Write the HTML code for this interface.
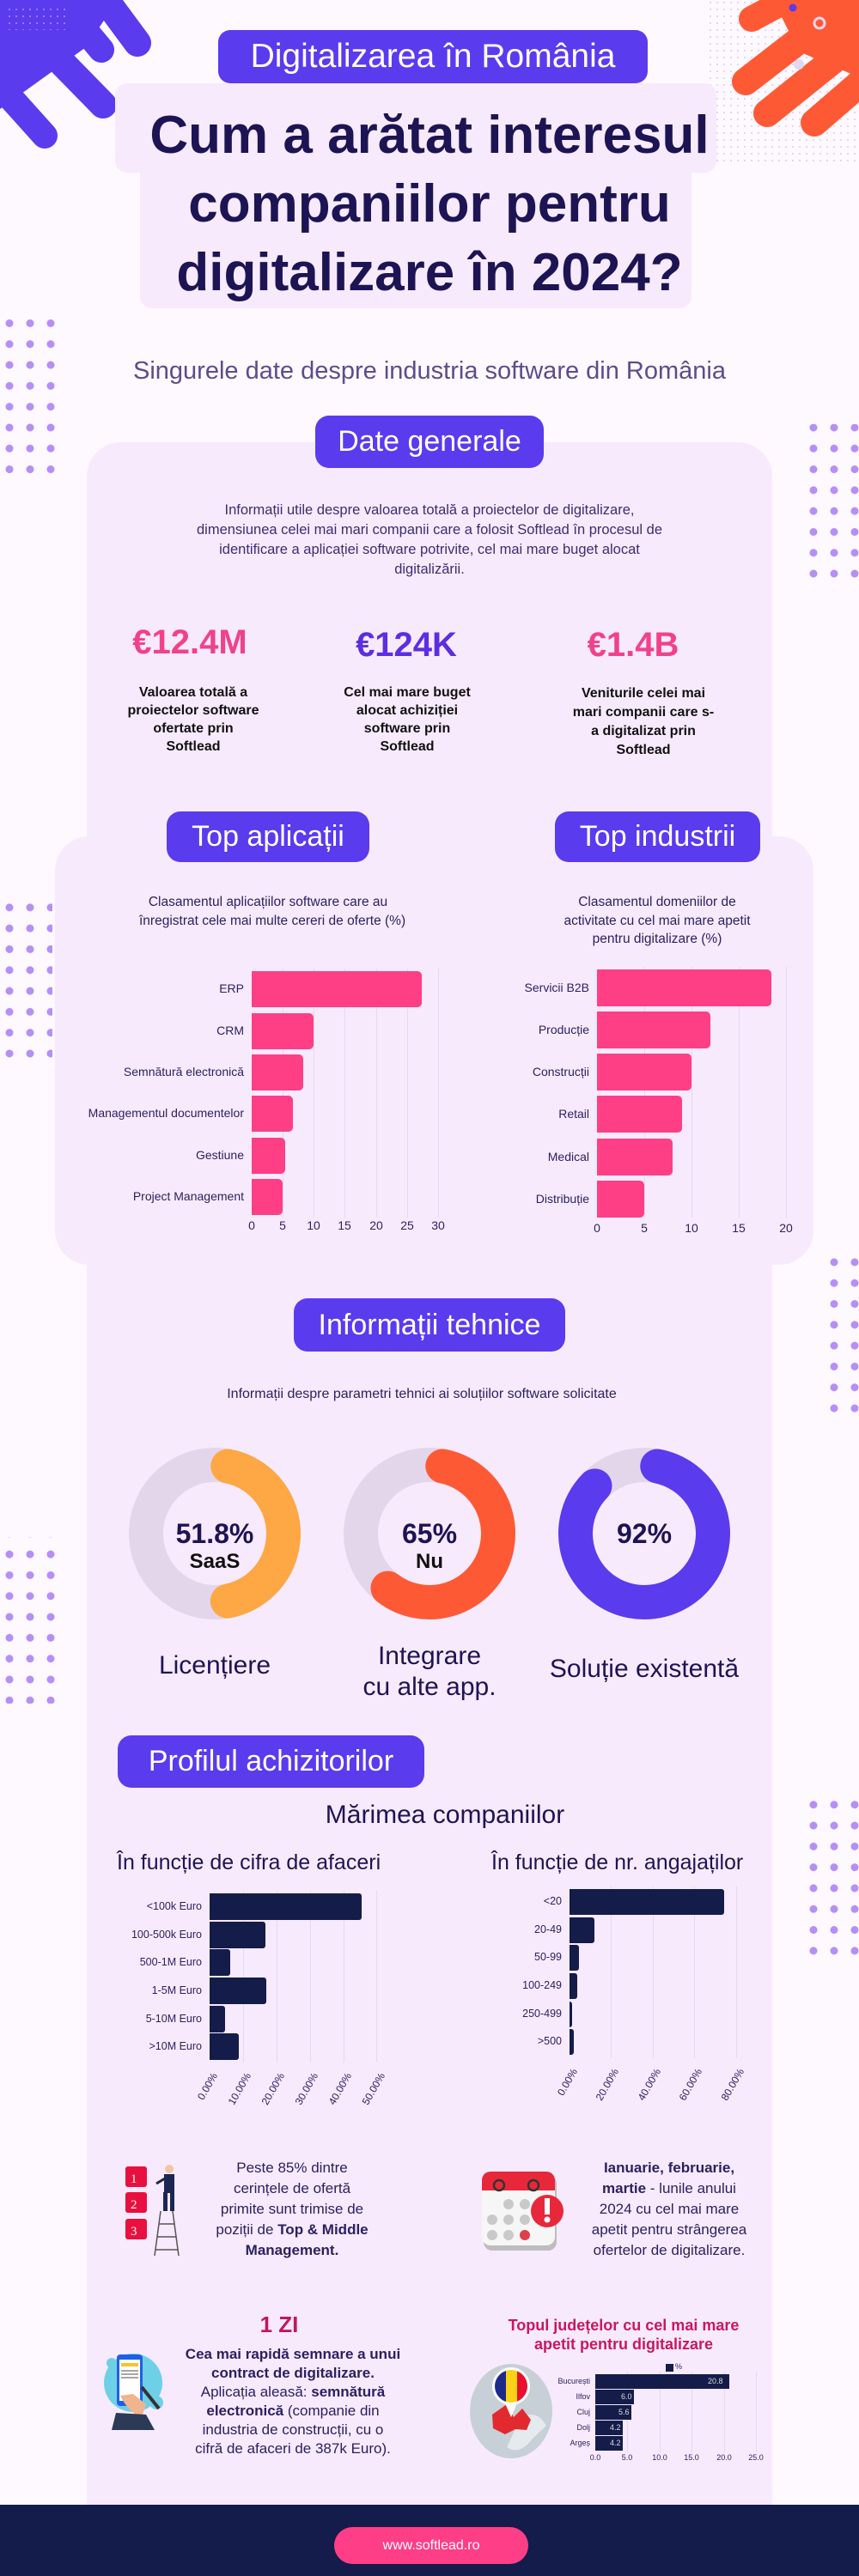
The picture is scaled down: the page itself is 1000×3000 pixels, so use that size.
<!DOCTYPE html>
<html><head><meta charset="utf-8">
<style>
*{margin:0;padding:0;box-sizing:border-box}
body{width:1000px;height:3000px;background:#fdf9fe;position:relative;overflow:hidden;font-family:"Liberation Sans",sans-serif;color:#231a5b}
.a{position:absolute}
.pill{position:absolute;background:#5a3bee;color:#fff;border-radius:16px;text-align:center;white-space:nowrap}
.c{text-align:center;white-space:nowrap}
.bar{position:absolute;background:#fe3f85;border-radius:0 5px 5px 0}
.nb{position:absolute;background:#141c4a;border-radius:0 3px 3px 0}
.lbl{position:absolute;text-align:right;font-size:14px;color:#2a2160;white-space:nowrap}
.tk{position:absolute;font-size:14px;color:#2a2160;width:30px;text-align:center;margin-left:-15px}
.gl{position:absolute;width:1px;background:#e6d8ee}
.rt{position:absolute;font-size:12px;color:#2a2160;transform-origin:100% 50%;transform:rotate(-60deg);text-align:right;width:60px;white-space:nowrap}
</style></head><body>

<!-- decorations -->
<svg class="a" style="left:0;top:0" width="1000" height="3000">
<defs>
<pattern id="dp" x="0" y="0" width="24" height="24.3" patternUnits="userSpaceOnUse"><circle cx="11" cy="12" r="4.5" fill="#a87cf4"/></pattern>
<pattern id="dw" x="0" y="0" width="8" height="8" patternUnits="userSpaceOnUse"><circle cx="3" cy="3" r="1" fill="#e0c8ee"/></pattern>
<linearGradient id="fade" x1="0" y1="0" x2="0" y2="1"><stop offset="0" stop-color="#fff" stop-opacity="1"/><stop offset="1" stop-color="#fff" stop-opacity="0.35"/></linearGradient>
<mask id="fm"><rect x="0" y="0" width="1000" height="3000" fill="#fff"/></mask>
</defs>
<!-- top-left purple -->
<g fill="#5a3bee" stroke="#5a3bee" stroke-linecap="round">
<polygon points="0,0 137,0 100,55 0,127" stroke="none"/>
<line x1="112" y1="-15" x2="160" y2="50" stroke-width="32"/>
<line x1="70" y1="0" x2="118" y2="58" stroke-width="30"/>
<line x1="30" y1="30" x2="120" y2="122" stroke-width="32"/>
<line x1="0" y1="100" x2="52" y2="158" stroke-width="30"/>
</g>
<rect x="10" y="10" width="70" height="25" fill="url(#dw)" opacity="0.6"/>
<!-- top-right orange -->
<rect x="820" y="0" width="180" height="190" fill="url(#dw)"/>
<g fill="#fe5935" stroke="#fe5935" stroke-linecap="round">
<polygon points="900,0 1000,0 1000,90 930,60" stroke="none"/>
<line x1="935" y1="-10" x2="875" y2="22" stroke-width="30"/>
<line x1="965" y1="20" x2="868" y2="95" stroke-width="32"/>
<line x1="995" y1="50" x2="893" y2="132" stroke-width="32"/>
<line x1="1015" y1="85" x2="948" y2="143" stroke-width="32"/>
</g>
<circle cx="923" cy="9" r="4.5" fill="#5a3bee"/>
<circle cx="954" cy="27" r="6" fill="none" stroke="#e2d7ee" stroke-width="3"/>
<circle cx="930" cy="75" r="6" fill="#e2d7ee"/>
<!-- dot grids -->
<rect x="0" y="359" width="72" height="194" fill="url(#dp)" opacity="0.85"/>
<rect x="929" y="494" width="72" height="194" fill="url(#dp)" opacity="0.85"/>
<rect x="-11" y="1051" width="72" height="194" fill="url(#dp)" opacity="0.85"/>
<rect x="953" y="1461" width="48" height="194" fill="url(#dp)" opacity="0.85"/>
<rect x="0" y="1790" width="72" height="194" fill="url(#dp)" opacity="0.85"/>
<rect x="929" y="2088" width="72" height="194" fill="url(#dp)" opacity="0.85"/>
</svg>

<!-- title -->
<div class="a" style="left:134px;top:97px;width:700px;height:104px;background:#f6eafc;border-radius:14px"></div>
<div class="a" style="left:163px;top:180px;width:642px;height:179px;background:#f6eafc;border-radius:14px"></div>
<div class="pill" style="left:254px;top:35px;width:500px;height:62px;font-size:39px;line-height:62px;border-radius:14px">Digitalizarea în România</div>
<div class="a c" style="left:0;width:1000px;top:118px;font-size:62px;font-weight:bold;line-height:80px;color:#1d1454">Cum a arătat interesul<br>companiilor pentru<br>digitalizare în 2024?</div>
<div class="a c" style="left:0;width:1000px;top:416px;font-size:29px;color:#5a4e8a">Singurele date despre industria software din România</div>

<!-- main panel -->
<div class="a" style="left:101px;top:515px;width:798px;height:2402px;background:#f8eafd;border-radius:40px 40px 0 0"></div>
<div class="pill" style="left:367px;top:484px;width:266px;height:61px;font-size:34px;line-height:61px">Date generale</div>
<div class="a c" style="left:150px;width:700px;top:583px;font-size:16.5px;line-height:23px;color:#3a2e6e">Informații utile despre valoarea totală a proiectelor de digitalizare,<br>dimensiunea celei mai mari companii care a folosit Softlead în procesul de<br>identificare a aplicației software potrivite, cel mai mare buget alocat<br>digitalizării.</div>
<div class="a c" style="left:121px;width:200px;top:726px;font-size:40px;font-weight:bold;color:#f0428a">€12.4M</div>
<div class="a c" style="left:373px;width:200px;top:729px;font-size:40px;font-weight:bold;color:#5b2fe0">€124K</div>
<div class="a c" style="left:637px;width:200px;top:729px;font-size:40px;font-weight:bold;color:#f0428a">€1.4B</div>
<div class="a c" style="left:125px;width:200px;top:796px;font-size:16px;font-weight:bold;line-height:21px;color:#111">Valoarea totală a<br>proiectelor software<br>ofertate prin<br>Softlead</div>
<div class="a c" style="left:374px;width:200px;top:796px;font-size:16px;font-weight:bold;line-height:21px;color:#111">Cel mai mare buget<br>alocat achiziției<br>software prin<br>Softlead</div>
<div class="a c" style="left:649px;width:200px;top:797px;font-size:16px;font-weight:bold;line-height:22px;color:#111">Veniturile celei mai<br>mari companii care s-<br>a digitalizat prin<br>Softlead</div>

<!-- secondary panel -->
<div class="a" style="left:64px;top:974px;width:883px;height:499px;background:#f8eafd;border-radius:40px"></div>
<div class="pill" style="left:194px;top:945px;width:236px;height:59px;font-size:34px;line-height:59px">Top aplicații</div>
<div class="pill" style="left:646px;top:945px;width:239px;height:59px;font-size:34px;line-height:59px">Top industrii</div>
<div class="a c" style="left:162px;width:300px;top:1040px;font-size:15.5px;line-height:21.5px;color:#2a2160">Clasamentul aplicațiilor software care au<br>înregistrat cele mai multe cereri de oferte (%)</div>
<div class="a c" style="left:615px;width:300px;top:1040px;font-size:15.5px;line-height:21.5px;color:#2a2160">Clasamentul domeniilor de<br>activitate cu cel mai mare apetit<br>pentru digitalizare (%)</div>

<!-- left app chart -->
<div class="gl" style="left:329px;top:1128px;height:290px"></div>
<div class="gl" style="left:365px;top:1128px;height:290px"></div>
<div class="gl" style="left:401px;top:1128px;height:290px"></div>
<div class="gl" style="left:438px;top:1128px;height:290px"></div>
<div class="gl" style="left:474px;top:1128px;height:290px"></div>
<div class="gl" style="left:510px;top:1128px;height:290px"></div>
<div class="bar" style="left:293px;top:1131px;width:198px;height:42px"></div>
<div class="bar" style="left:293px;top:1180px;width:72px;height:42px"></div>
<div class="bar" style="left:293px;top:1228px;width:60px;height:42px"></div>
<div class="bar" style="left:293px;top:1276px;width:48px;height:42px"></div>
<div class="bar" style="left:293px;top:1325px;width:39px;height:42px"></div>
<div class="bar" style="left:293px;top:1373px;width:36px;height:42px"></div>
<div class="lbl" style="right:716px;top:1143px">ERP</div>
<div class="lbl" style="right:716px;top:1192px">CRM</div>
<div class="lbl" style="right:716px;top:1240px">Semnătură electronică</div>
<div class="lbl" style="right:716px;top:1288px">Managementul documentelor</div>
<div class="lbl" style="right:716px;top:1337px">Gestiune</div>
<div class="lbl" style="right:716px;top:1385px">Project Management</div>
<div class="tk" style="left:293px;top:1419px">0</div>
<div class="tk" style="left:329px;top:1419px">5</div>
<div class="tk" style="left:365px;top:1419px">10</div>
<div class="tk" style="left:401px;top:1419px">15</div>
<div class="tk" style="left:438px;top:1419px">20</div>
<div class="tk" style="left:474px;top:1419px">25</div>
<div class="tk" style="left:510px;top:1419px">30</div>

<!-- right industry chart -->
<div class="gl" style="left:750px;top:1126px;height:292px"></div>
<div class="gl" style="left:805px;top:1126px;height:292px"></div>
<div class="gl" style="left:860px;top:1126px;height:292px"></div>
<div class="gl" style="left:915px;top:1126px;height:292px"></div>
<div class="bar" style="left:695px;top:1129px;width:203px;height:43px"></div>
<div class="bar" style="left:695px;top:1178px;width:132px;height:43px"></div>
<div class="bar" style="left:695px;top:1227px;width:110px;height:43px"></div>
<div class="bar" style="left:695px;top:1276px;width:99px;height:43px"></div>
<div class="bar" style="left:695px;top:1326px;width:88px;height:43px"></div>
<div class="bar" style="left:695px;top:1375px;width:55px;height:43px"></div>
<div class="lbl" style="right:314px;top:1142px">Servicii B2B</div>
<div class="lbl" style="right:314px;top:1191px">Producție</div>
<div class="lbl" style="right:314px;top:1240px">Construcții</div>
<div class="lbl" style="right:314px;top:1289px">Retail</div>
<div class="lbl" style="right:314px;top:1339px">Medical</div>
<div class="lbl" style="right:314px;top:1388px">Distribuție</div>
<div class="tk" style="left:695px;top:1422px">0</div>
<div class="tk" style="left:750px;top:1422px">5</div>
<div class="tk" style="left:805px;top:1422px">10</div>
<div class="tk" style="left:860px;top:1422px">15</div>
<div class="tk" style="left:915px;top:1422px">20</div>

<!-- technical -->
<div class="pill" style="left:342px;top:1512px;width:316px;height:62px;font-size:34px;line-height:62px">Informații tehnice</div>
<div class="a c" style="left:0;width:982px;top:1615px;font-size:16px;color:#2a2160">Informații despre parametri tehnici ai soluțiilor software solicitate</div>
<svg class="a" style="left:0;top:1680px" width="1000" height="220">
<g fill="none" stroke-width="40">
<circle cx="250" cy="106" r="80" stroke="#e4d6ea"/>
<circle cx="500" cy="106" r="80" stroke="#e4d6ea"/>
<circle cx="750" cy="106" r="80" stroke="#e4d6ea"/>
<circle cx="250" cy="106" r="80" stroke="#fda845" stroke-linecap="round" stroke-dasharray="221 1000" transform="rotate(-79 250 106)"/>
<circle cx="500" cy="106" r="80" stroke="#fe5935" stroke-linecap="round" stroke-dasharray="288 1000" transform="rotate(-79 500 106)"/>
<circle cx="750" cy="106" r="80" stroke="#5a3bee" stroke-linecap="round" stroke-dasharray="423 1000" transform="rotate(-79 750 106)"/>
</g>
</svg>
<div class="a c" style="left:150px;width:200px;top:1768px;font-size:32px;font-weight:bold;color:#1d1454">51.8%</div>
<div class="a c" style="left:150px;width:200px;top:1805px;font-size:24px;font-weight:bold;color:#111">SaaS</div>
<div class="a c" style="left:400px;width:200px;top:1768px;font-size:32px;font-weight:bold;color:#1d1454">65%</div>
<div class="a c" style="left:400px;width:200px;top:1805px;font-size:24px;font-weight:bold;color:#111">Nu</div>
<div class="a c" style="left:650px;width:200px;top:1768px;font-size:32px;font-weight:bold;color:#1d1454">92%</div>
<div class="a c" style="left:150px;width:200px;top:1923px;font-size:30px;color:#1d1454">Licențiere</div>
<div class="a c" style="left:400px;width:200px;top:1911px;font-size:30px;line-height:36px;color:#1d1454">Integrare<br>cu alte app.</div>
<div class="a c" style="left:630px;width:240px;top:1927px;font-size:30px;color:#1d1454">Soluție existentă</div>

<!-- profil -->
<div class="pill" style="left:137px;top:2021px;width:357px;height:61px;font-size:34px;line-height:61px">Profilul achizitorilor</div>
<div class="a c" style="left:318px;width:400px;top:2097px;font-size:30px;color:#1d1454">Mărimea companiilor</div>
<div class="a" style="left:136px;top:2155px;font-size:25px;color:#1d1454;white-space:nowrap">În funcție de cifra de afaceri</div>
<div class="a" style="left:572px;top:2155px;font-size:25px;color:#1d1454;white-space:nowrap">În funcție de nr. angajaților</div>

<div class="gl" style="left:283px;top:2202px;height:200px"></div>
<div class="gl" style="left:322px;top:2202px;height:200px"></div>
<div class="gl" style="left:361px;top:2202px;height:200px"></div>
<div class="gl" style="left:400px;top:2202px;height:200px"></div>
<div class="gl" style="left:438px;top:2202px;height:200px"></div>
<div class="nb" style="left:244px;top:2205px;width:177px;height:31px"></div>
<div class="nb" style="left:244px;top:2238px;width:65px;height:31px"></div>
<div class="nb" style="left:244px;top:2270px;width:24px;height:31px"></div>
<div class="nb" style="left:244px;top:2303px;width:66px;height:31px"></div>
<div class="nb" style="left:244px;top:2336px;width:18px;height:31px"></div>
<div class="nb" style="left:244px;top:2368px;width:34px;height:31px"></div>
<div class="lbl" style="right:765px;top:2213px;font-size:12.5px">&lt;100k Euro</div>
<div class="lbl" style="right:765px;top:2246px;font-size:12.5px">100-500k Euro</div>
<div class="lbl" style="right:765px;top:2278px;font-size:12.5px">500-1M Euro</div>
<div class="lbl" style="right:765px;top:2311px;font-size:12.5px">1-5M Euro</div>
<div class="lbl" style="right:765px;top:2344px;font-size:12.5px">5-10M Euro</div>
<div class="lbl" style="right:765px;top:2376px;font-size:12.5px">&gt;10M Euro</div>
<div class="rt" style="left:190px;top:2408px">0.00%</div>
<div class="rt" style="left:229px;top:2408px">10.00%</div>
<div class="rt" style="left:268px;top:2408px">20.00%</div>
<div class="rt" style="left:307px;top:2408px">30.00%</div>
<div class="rt" style="left:346px;top:2408px">40.00%</div>
<div class="rt" style="left:385px;top:2408px">50.00%</div>

<div class="gl" style="left:711px;top:2197px;height:200px"></div>
<div class="gl" style="left:760px;top:2197px;height:200px"></div>
<div class="gl" style="left:808px;top:2197px;height:200px"></div>
<div class="gl" style="left:857px;top:2197px;height:200px"></div>
<div class="nb" style="left:663px;top:2200px;width:180px;height:30px"></div>
<div class="nb" style="left:663px;top:2233px;width:29px;height:30px"></div>
<div class="nb" style="left:663px;top:2265px;width:11px;height:30px"></div>
<div class="nb" style="left:663px;top:2298px;width:9px;height:30px"></div>
<div class="nb" style="left:663px;top:2331px;width:3px;height:30px"></div>
<div class="nb" style="left:663px;top:2363px;width:5px;height:30px"></div>
<div class="lbl" style="right:346px;top:2207px;font-size:12.5px">&lt;20</div>
<div class="lbl" style="right:346px;top:2240px;font-size:12.5px">20-49</div>
<div class="lbl" style="right:346px;top:2272px;font-size:12.5px">50-99</div>
<div class="lbl" style="right:346px;top:2305px;font-size:12.5px">100-249</div>
<div class="lbl" style="right:346px;top:2338px;font-size:12.5px">250-499</div>
<div class="lbl" style="right:346px;top:2370px;font-size:12.5px">&gt;500</div>
<div class="rt" style="left:609px;top:2403px">0.00%</div>
<div class="rt" style="left:657px;top:2403px">20.00%</div>
<div class="rt" style="left:706px;top:2403px">40.00%</div>
<div class="rt" style="left:754px;top:2403px">60.00%</div>
<div class="rt" style="left:803px;top:2403px">80.00%</div>

<!-- icons row 1 -->
<svg class="a" style="left:140px;top:2515px" width="90" height="115">
<rect x="6" y="8" width="25" height="24" rx="3" fill="#e8103f"/>
<rect x="6" y="38" width="25" height="24" rx="3" fill="#e8103f"/>
<rect x="6" y="69" width="25" height="24" rx="3" fill="#e8103f"/>
<text x="12" y="27" fill="#fff" font-size="15" font-family="Liberation Serif">1</text>
<text x="12" y="57" fill="#fff" font-size="15" font-family="Liberation Serif">2</text>
<text x="12" y="88" fill="#fff" font-size="15" font-family="Liberation Serif">3</text>
<g stroke="#555" stroke-width="1.5"><line x1="47" y1="60" x2="40" y2="112"/><line x1="61" y1="60" x2="68" y2="112"/><line x1="45" y1="75" x2="63" y2="75"/><line x1="43" y1="90" x2="65" y2="90"/><line x1="41" y1="105" x2="67" y2="105"/></g>
<circle cx="57" cy="11" r="5" fill="#f2c6a5"/>
<rect x="51" y="17" width="12" height="22" fill="#1d2552"/>
<rect x="50" y="38" width="5" height="22" fill="#1d2552"/><rect x="58" y="38" width="5" height="22" fill="#1d2552"/>
<line x1="52" y1="22" x2="42" y2="28" stroke="#1d2552" stroke-width="3"/>
</svg>
<div class="a c" style="left:190px;width:300px;top:2513px;font-size:17px;line-height:24px;color:#2a2160">Peste 85% dintre<br>cerințele de ofertă<br>primite sunt trimise de<br>poziții de <b>Top &amp; Middle</b><br><b>Management.</b></div>
<svg class="a" style="left:561px;top:2527px" width="100" height="100">
<rect x="2" y="6" width="85" height="88" rx="10" fill="#bdbdbd"/>
<rect x="0" y="2" width="85" height="86" rx="10" fill="#f6f6f6"/>
<path d="M0 24 V12 a10 10 0 0 1 10 -10 H75 a10 10 0 0 1 10 10 V24 Z" fill="#e8283a"/>
<g fill="#c9c9c9"><circle cx="31" cy="40" r="6"/><circle cx="50" cy="40" r="6"/><circle cx="12" cy="58" r="6"/><circle cx="31" cy="58" r="6"/><circle cx="50" cy="58" r="6"/><circle cx="12" cy="76" r="6"/><circle cx="31" cy="76" r="6"/></g>
<circle cx="50" cy="76" r="6" fill="#e0404a"/>
<circle cx="76" cy="48" r="19" fill="#e8283a"/>
<rect x="73" y="33" width="6" height="19" fill="#fff"/><circle cx="76" cy="58" r="3.5" fill="#fff"/>
<g stroke="#333" stroke-width="2.5" fill="none"><circle cx="20" cy="18" r="6"/><circle cx="60" cy="18" r="6"/></g>
</svg>
<div class="a c" style="left:629px;width:300px;top:2513px;font-size:17px;line-height:24px;color:#2a2160"><b>Ianuarie, februarie,</b><br><b>martie</b> - lunile anului<br>2024 cu cel mai mare<br>apetit pentru strângerea<br>ofertelor de digitalizare.</div>

<!-- row 2 -->
<div class="a c" style="left:225px;width:200px;top:2692px;font-size:26px;font-weight:bold;color:#c0185c">1 ZI</div>
<svg class="a" style="left:110px;top:2730px" width="100" height="100">
<circle cx="45" cy="45" r="34" fill="#6ed0e6"/>
<circle cx="20" cy="22" r="6" fill="#6ed0e6"/><circle cx="72" cy="68" r="8" fill="#6ed0e6"/>
<rect x="26" y="12" width="30" height="60" rx="4" fill="#1e5fe8"/>
<rect x="29" y="18" width="24" height="48" fill="#fff"/>
<rect x="31" y="22" width="20" height="4" fill="#f8c32a"/>
<g stroke="#888" stroke-width="1.5"><line x1="31" y1="31" x2="51" y2="31"/><line x1="31" y1="35" x2="51" y2="35"/><line x1="31" y1="39" x2="51" y2="39"/></g>
<path d="M30 60 Q40 80 55 85 L60 70 Q50 62 45 58 Z" fill="#f2b48c"/>
<line x1="55" y1="50" x2="75" y2="75" stroke="#333" stroke-width="4"/>
<path d="M25 80 L60 82 L70 100 L20 100 Z" fill="#2b3a55"/>
</svg>
<div class="a c" style="left:191px;width:300px;top:2731px;font-size:17px;line-height:22px;color:#2a2160"><b>Cea mai rapidă semnare a unui</b><br><b>contract de digitalizare.</b><br>Aplicația aleasă: <b>semnătură</b><br><b>electronică</b> (companie din<br>industria de construcții, cu o<br>cifră de afaceri de 387k Euro).</div>
<div class="a c" style="left:576px;width:300px;top:2697px;font-size:18px;font-weight:bold;line-height:22px;color:#c8185f">Topul județelor cu cel mai mare<br>apetit pentru digitalizare</div>
<svg class="a" style="left:540px;top:2750px" width="120" height="115">
<ellipse cx="55" cy="58" rx="48" ry="55" fill="#c7d0d6"/>
<path d="M66 66 Q85 55 96 75 L80 90 Q65 110 50 100 Z" fill="#e5eaee"/>
<path d="M33 62 L50 50 L58 65 L68 55 L78 68 L73 80 L60 79 L48 85 L34 78 Z" fill="#e22a2e"/>
<path d="M45 42 L55 65 L65 42 Z" fill="#fff"/>
<circle cx="55" cy="29" r="22" fill="#fff"/>
<clipPath id="fl"><circle cx="55" cy="29" r="19"/></clipPath>
<g clip-path="url(#fl)"><rect x="36" y="10" width="13" height="40" fill="#1d2a8a"/><rect x="49" y="10" width="13" height="40" fill="#fcd116"/><rect x="62" y="10" width="13" height="40" fill="#e8112d"/></g>
</svg>
<div class="nb" style="left:775px;top:2753px;width:9px;height:9px;border-radius:0"></div>
<div class="a" style="left:786px;top:2751px;font-size:9px;color:#2a2160">%</div>
<div class="gl" style="left:730px;top:2762px;height:94px"></div>
<div class="gl" style="left:768px;top:2762px;height:94px"></div>
<div class="gl" style="left:805px;top:2762px;height:94px"></div>
<div class="gl" style="left:843px;top:2762px;height:94px"></div>
<div class="gl" style="left:880px;top:2762px;height:94px"></div>
<div class="nb" style="left:693px;top:2765px;width:156px;height:17px;border-radius:0"></div>
<div class="nb" style="left:693px;top:2783px;width:45px;height:17px;border-radius:0"></div>
<div class="nb" style="left:693px;top:2801px;width:42px;height:17px;border-radius:0"></div>
<div class="nb" style="left:693px;top:2819px;width:32px;height:17px;border-radius:0"></div>
<div class="nb" style="left:693px;top:2837px;width:32px;height:17px;border-radius:0"></div>
<div class="a" style="left:824px;top:2768px;font-size:9px;color:#ddd">20.8</div>
<div class="a" style="left:723px;top:2786px;font-size:9px;color:#ddd">6.0</div>
<div class="a" style="left:720px;top:2804px;font-size:9px;color:#ddd">5.6</div>
<div class="a" style="left:710px;top:2822px;font-size:9px;color:#ddd">4.2</div>
<div class="a" style="left:710px;top:2840px;font-size:9px;color:#ddd">4.2</div>
<div class="lbl" style="right:313px;top:2768px;font-size:9px">București</div>
<div class="lbl" style="right:313px;top:2786px;font-size:9px">Ilfov</div>
<div class="lbl" style="right:313px;top:2804px;font-size:9px">Cluj</div>
<div class="lbl" style="right:313px;top:2822px;font-size:9px">Dolj</div>
<div class="lbl" style="right:313px;top:2840px;font-size:9px">Argeș</div>
<div class="tk" style="left:693px;top:2857px;font-size:9px">0.0</div>
<div class="tk" style="left:730px;top:2857px;font-size:9px">5.0</div>
<div class="tk" style="left:768px;top:2857px;font-size:9px">10.0</div>
<div class="tk" style="left:805px;top:2857px;font-size:9px">15.0</div>
<div class="tk" style="left:843px;top:2857px;font-size:9px">20.0</div>
<div class="tk" style="left:880px;top:2857px;font-size:9px">25.0</div>

<!-- footer -->
<div class="a" style="left:0;top:2917px;width:1000px;height:83px;background:#131c4b"></div>
<div class="a c" style="left:389px;top:2943px;width:226px;height:43px;border-radius:22px;background:#fe3e87;color:#fff;font-size:16px;line-height:43px">www.softlead.ro</div>
</body></html>
